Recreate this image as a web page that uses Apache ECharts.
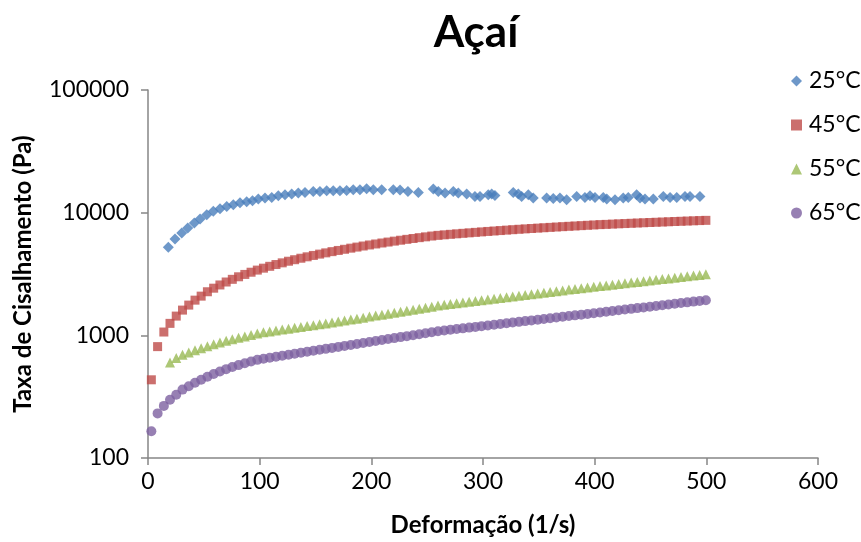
<!DOCTYPE html>
<html>
<head>
<meta charset="utf-8">
<script src="https://cdn.jsdelivr.net/npm/echarts@6/dist/echarts.min.js"></script>
<style>
html,body{margin:0;padding:0;background:#fff;}
#chart{width:861px;height:542px;}
</style>
</head>
<body>
<div id="chart"></div>
<script>
// Shear rate grid (1/s) shared by 45°C, 55°C, 65°C series
const X_GRID = [3.0,8.6,14.2,19.7,25.3,30.9,36.5,42.1,47.6,53.2,58.8,64.4,70.0,75.5,81.1,86.7,92.3,97.9,103.4,109.0,114.6,120.2,125.8,131.3,136.9,142.5,148.1,153.7,159.2,164.8,170.4,176.0,181.6,187.1,192.7,198.3,203.9,209.5,215.0,220.6,226.2,231.8,237.4,242.9,248.5,254.1,259.7,265.3,270.8,276.4,282.0,287.6,293.2,298.7,304.3,309.9,315.5,321.1,326.6,332.2,337.8,343.4,349.0,354.5,360.1,365.7,371.3,376.9,382.4,388.0,393.6,399.2,404.8,410.3,415.9,421.5,427.1,432.7,438.2,443.8,449.4,455.0,460.6,466.1,471.7,477.3,482.9,488.5,494.0,499.6];

const RED_45 = [434,809,1064,1252,1435,1606,1764,1936,2087,2266,2423,2574,2721,2861,3001,3137,3270,3402,3528,3653,3777,3899,4019,4135,4251,4366,4480,4593,4702,4812,4920,5028,5136,5241,5347,5453,5555,5659,5759,5861,5962,6061,6160,6256,6352,6449,6531,6596,6660,6723,6785,6848,6908,6969,7030,7088,7147,7207,7264,7321,7375,7428,7482,7534,7586,7638,7690,7740,7790,7839,7890,7939,7990,8027,8070,8111,8152,8194,8234,8274,8314,8352,8391,8430,8469,8508,8545,8583,8620,8656];

const GREEN_55 = [null,null,null,600,654,693,726,756,783,813,845,875,904,930,955,980,1006,1033,1059,1077,1095,1114,1133,1151,1171,1190,1211,1231,1251,1273,1294,1318,1343,1368,1394,1421,1448,1475,1503,1531,1560,1590,1620,1650,1682,1714,1747,1774,1798,1824,1851,1877,1905,1932,1960,1988,2017,2046,2075,2104,2135,2165,2197,2228,2260,2292,2325,2359,2390,2422,2455,2487,2520,2553,2586,2620,2655,2692,2727,2763,2800,2837,2874,2912,2951,2990,3030,3070,3110,3151];

const PURPLE_65 = [165,231,266,298,328,361,385,411,435,460,484,508,530,551,572,593,612,631,645,657,670,682,695,708,721,734,748,762,776,790,805,820,835,850,866,882,899,915,932,949,967,985,1003,1021,1040,1060,1079,1095,1110,1125,1140,1156,1172,1188,1204,1221,1237,1254,1271,1288,1306,1324,1342,1360,1379,1398,1417,1436,1455,1475,1495,1516,1536,1557,1578,1600,1622,1644,1667,1689,1712,1736,1760,1783,1808,1832,1857,1883,1908,1934];

// 25°C series has its own shear-rate points
const BLUE_X = [18.2,24.2,30.2,35.6,41.5,46.6,52.6,58.5,64.5,70.5,76.4,82.4,88.4,93.6,98.8,104.8,110.8,116.7,122.7,128.7,134.6,140.6,148.0,154.0,160.0,165.9,171.9,177.9,183.8,189.8,195.8,201.8,209.3,219.7,225.7,232.8,242.1,255.5,260.0,266.0,273.4,277.9,285.4,292.8,297.3,304.7,307.8,310.7,327.1,331.6,334.6,340.6,345.0,357.0,362.9,368.9,374.9,383.9,391.3,395.8,400.3,407.7,410.8,418.2,425.6,430.1,437.6,440.6,445.1,452.5,461.5,467.5,473.5,480.9,485.4,494.3];
const BLUE_25 = [5220,6110,6840,7510,8250,8890,9630,10250,10780,11250,11610,12060,12290,12520,12920,13170,13320,13750,14010,14190,14460,14620,14900,14900,15100,15100,15100,15180,15380,15380,15670,15380,15380,15380,15290,14900,14620,15580,14900,14460,14900,14460,14190,13570,13570,14010,14190,13820,14620,14190,13570,14010,13170,13170,13070,13170,12760,13570,13320,13750,13320,13320,12920,12760,13170,13320,14010,13170,12920,12920,13570,13320,13320,13570,13570,13570];

const SERIES_NAMES = ['25°C','45°C','55°C','65°C'];
const X_TICKS = [0,100,200,300,400,500,600];
const Y_TICKS = [100,1000,10000,100000];

const FONT = 'Lato, "Open Sans", sans-serif';

function pairs(xs, ys){
  const out = [];
  for (let i = 0; i < xs.length; i++) if (ys[i] != null) out.push([xs[i], ys[i]]);
  return out;
}

const chart = echarts.init(document.getElementById('chart'), null, {renderer:'canvas'});
const option = {
  backgroundColor:'#ffffff',
  animation:false,
  title:{
    text:'Açaí', left:471, top:6, textAlign:'center',
    textStyle:{fontFamily:FONT, fontWeight:'bold', fontSize:44, color:'#000'}
  },
  legend:{
    orient:'vertical', left:786, top:62, itemGap:16, itemWidth:11, itemHeight:11,
    textStyle:{fontFamily:FONT, fontSize:23, lineHeight:28, color:'#000', padding:[0,0,0,2]},
    data:[
      {name:SERIES_NAMES[0], icon:'diamond'},
      {name:SERIES_NAMES[1], icon:'rect'},
      {name:SERIES_NAMES[2], icon:'triangle'},
      {name:SERIES_NAMES[3], icon:'circle'}
    ]
  },
  grid:{left:148, right:43, top:90, bottom:83, containLabel:false},
  xAxis:{
    type:'value', min:X_TICKS[0], max:X_TICKS[X_TICKS.length-1], interval:100,
    name:'Deformação (1/s)', nameLocation:'middle', nameGap:55,
    nameTextStyle:{fontFamily:FONT, fontWeight:'bold', fontSize:24, color:'#000'},
    axisLine:{lineStyle:{color:'#868686', width:1.5}},
    axisTick:{show:true, inside:false, length:7, lineStyle:{color:'#868686', width:1.5}},
    axisLabel:{fontFamily:FONT, fontSize:23, color:'#000', margin:12},
    splitLine:{show:false}
  },
  yAxis:{
    type:'log', logBase:10, min:Y_TICKS[0], max:Y_TICKS[Y_TICKS.length-1],
    name:'Taxa de Cisalhamento (Pa)', nameLocation:'middle', nameGap:113, nameRotate:90,
    nameTextStyle:{fontFamily:FONT, fontWeight:'bold', fontSize:24, color:'#000'},
    axisLine:{show:true, lineStyle:{color:'#868686', width:1.5}},
    axisTick:{show:true, inside:false, length:7, lineStyle:{color:'#868686', width:1.5}},
    axisLabel:{fontFamily:FONT, fontSize:23, color:'#000', margin:19,
      formatter:function(v){ return String(Math.round(v)); }},
    splitLine:{show:false},
    minorTick:{show:false}
  },
  series:[
    {name:SERIES_NAMES[0], type:'scatter', symbol:'diamond', symbolSize:11,
     itemStyle:{color:'#4A7EBB'}, data:pairs(BLUE_X, BLUE_25)},
    {name:SERIES_NAMES[1], type:'scatter', symbol:'rect', symbolSize:9,
     itemStyle:{color:'#BE4B48'}, data:pairs(X_GRID, RED_45)},
    {name:SERIES_NAMES[2], type:'scatter', symbol:'triangle', symbolSize:10,
     itemStyle:{color:'#98B954'}, data:pairs(X_GRID, GREEN_55)},
    {name:SERIES_NAMES[3], type:'scatter', symbol:'circle', symbolSize:10,
     itemStyle:{color:'#7D60A0'}, data:pairs(X_GRID, PURPLE_65)}
  ]
};
chart.setOption(option);
</script>
</body>
</html>
